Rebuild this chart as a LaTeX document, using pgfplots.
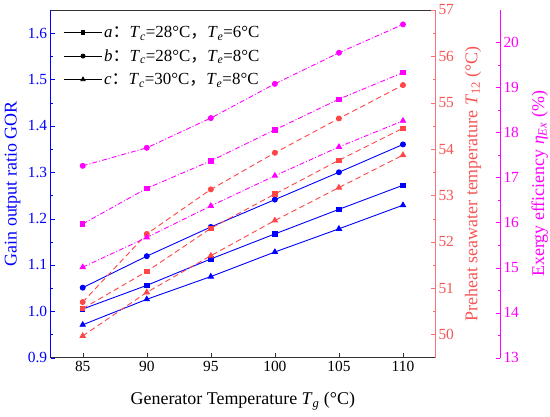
\documentclass[border=0pt]{standalone}
\usepackage{fontspec}
\setmainfont{Liberation Serif}
\newfontfamily\cjk{Noto Sans CJK SC}
\usepackage{pgfplots}
\pgfplotsset{compat=1.18}
\definecolor{gblue}{RGB}{0,0,255}
\definecolor{tred}{RGB}{255,70,70}
\definecolor{tredax}{RGB}{250,115,115}
\definecolor{tredtx}{RGB}{245,85,85}
\definecolor{emag}{RGB}{255,0,255}
\newcommand{\fs}{\fontsize{15.5}{18}\selectfont}
\newcommand{\fl}{\fontsize{18}{21}\selectfont}
\newcommand{\fg}{\fontsize{17}{20}\selectfont}
\begin{document}
\begin{tikzpicture}
\pgfplotsset{
  common/.style={
    scale only axis, width=384.3bp, height=347.7bp,
    xmin=82.5, xmax=112.5,
    /pgf/number format/assume math mode=true,
    tick align=inside,
    major tick length=4.5bp, minor tick length=2.5bp,
    tick label style={font=\fs},
    label style={font=\fl},
  },
}
% main axis: GOR
\begin{axis}[common,
  ymin=0.9, ymax=1.65,
  xtick={85,90,95,100,105,110},
  ytick={0.9,1.0,...,1.61},
  yticklabel style={/pgf/number format/fixed, /pgf/number format/fixed zerofill, /pgf/number format/precision=1, text=gblue},
  minor y tick num=1,
  xtick pos=bottom, ytick pos=left,
  separate axis lines,
  x axis line style={black!80, line width=0.9bp},
  y axis line style={gblue, line width=0.9bp},
  every y tick/.style={gblue},
  every minor y tick/.style={gblue},
  every x tick/.style={black!80},
  xlabel={Generator Temperature \textit{T}\textsubscript{\textit{g}} (°C)},
  ylabel={Gain output ratio GOR},
  ylabel style={text=gblue, at={(axis description cs:0,0.5)}, anchor=base, yshift=34bp},
  xlabel style={at={(axis description cs:0.5,0)}, anchor=base, yshift=-47bp},
  legend style={at={(axis description cs:0,1)}, anchor=north west, xshift=10bp, yshift=-12bp, draw=none, fill=none, font=\fg, row sep=6.5bp},
  legend cell align=left,
  legend image code/.code={\draw[mark repeat=2,mark phase=2,#1] plot coordinates {(0bp,0bp) (18.7bp,0bp) (37.4bp,0bp)};},
]
\addlegendimage{black, line width=0.9bp, mark=square*, mark size=1.7bp}
\addlegendentry{\textit{a}{\cjk：}\textit{T}\textsubscript{\textit{c}}=28°C{\cjk，}\textit{T}\textsubscript{\textit{e}}=6°C}
\addlegendimage{black, line width=0.9bp, mark=*, mark size=2bp}
\addlegendentry{\textit{b}{\cjk：}\textit{T}\textsubscript{\textit{c}}=28°C{\cjk，}\textit{T}\textsubscript{\textit{e}}=8°C}
\addlegendimage{black, line width=0.9bp, mark=triangle*, mark size=2.4bp}
\addlegendentry{\textit{c}{\cjk：}\textit{T}\textsubscript{\textit{c}}=30°C{\cjk，}\textit{T}\textsubscript{\textit{e}}=8°C}
\addplot[gblue, line width=0.9bp, mark=square*, mark size=2.2bp, forget plot] coordinates {(85,1.005) (90,1.056) (95,1.113) (100,1.167) (105,1.220) (110,1.272)};
\addplot[gblue, line width=0.9bp, mark=*, mark size=2.5bp, forget plot] coordinates {(85,1.051) (90,1.119) (95,1.182) (100,1.241) (105,1.300) (110,1.360)};
\addplot[gblue, line width=0.9bp, mark=triangle*, mark size=3bp, forget plot] coordinates {(85,0.971) (90,1.026) (95,1.075) (100,1.128) (105,1.178) (110,1.229)};
\end{axis}
% red axis: T12
\begin{axis}[common,
  ymin=49.5, ymax=57,
  axis x line=none, axis y line*=right,
  ytick={50,51,...,57}, minor y tick num=1,
  y axis line style={tredax, line width=0.9bp},
  every y tick/.style={tredax},
  every minor y tick/.style={tredax},
  yticklabel style={text=tredtx},
  ylabel={Preheat seawater temperature \textit{T}\textsubscript{12} (°C)},
  ylabel style={text=tredtx, at={(axis description cs:1,0.5)}, anchor=base, yshift=-42.3bp},
]
\addplot[tred, line width=0.9bp, dash pattern=on 5.5bp off 3.5bp, mark=square*, mark size=2.2bp, mark options={solid}] coordinates {(85,50.56) (90,51.36) (95,52.29) (100,53.03) (105,53.76) (110,54.45)};
\addplot[tred, line width=0.9bp, dash pattern=on 5.5bp off 3.5bp, mark=*, mark size=2.5bp, mark options={solid}] coordinates {(85,50.70) (90,52.17) (95,53.13) (100,53.92) (105,54.66) (110,55.38)};
\addplot[tred, line width=0.9bp, dash pattern=on 5.5bp off 3.5bp, mark=triangle*, mark size=3bp, mark options={solid}] coordinates {(85,49.97) (90,50.91) (95,51.70) (100,52.46) (105,53.17) (110,53.87)};
\end{axis}
% magenta data
\begin{axis}[common, ymin=13, ymax=20.72, hide axis]
\addplot[emag, line width=0.9bp, dash pattern=on 5bp off 2bp on 1bp off 2bp, mark=square*, mark size=2.2bp, mark options={solid}] coordinates {(85,15.97) (90,16.76) (95,17.37) (100,18.06) (105,18.74) (110,19.33)};
\addplot[emag, line width=0.9bp, dash pattern=on 5bp off 2bp on 1bp off 2bp, mark=*, mark size=2.5bp, mark options={solid}] coordinates {(85,17.26) (90,17.66) (95,18.32) (100,19.08) (105,19.77) (110,20.40)};
\addplot[emag, line width=0.9bp, dash pattern=on 5bp off 2bp on 1bp off 2bp, mark=triangle*, mark size=3bp, mark options={solid}] coordinates {(85,15.01) (90,15.67) (95,16.37) (100,17.04) (105,17.68) (110,18.26)};
\end{axis}
% magenta axis, shifted
\begin{axis}[common, at={(65bp,0)}, ymin=13, ymax=20.72,
  axis x line=none, axis y line*=right,
  ytick={13,14,...,20}, minor y tick num=1,
  y axis line style={emag, line width=0.9bp},
  every y tick/.style={emag},
  every minor y tick/.style={emag},
  yticklabel style={text=emag},
  ylabel={Exergy efficiency \textit{η}\textsubscript{\textit{Ex}} (\%)},
  ylabel style={text=emag, at={(axis description cs:1,0.5)}, anchor=base, yshift=-44bp},
]
\end{axis}
\pgfresetboundingbox
\useasboundingbox (-50.7bp,-59.3bp) rectangle (499.3bp,357.7bp);
\end{tikzpicture}
\end{document}
